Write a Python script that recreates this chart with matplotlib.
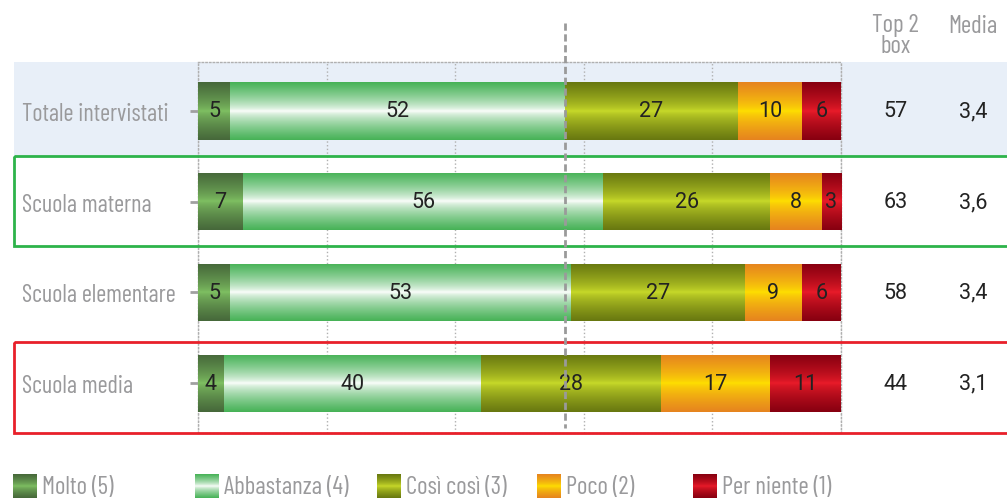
import numpy as np
import matplotlib.pyplot as plt
from matplotlib.colors import to_rgb
from matplotlib.patches import Rectangle

groups = ['Totale intervistati', 'Scuola materna', 'Scuola elementare', 'Scuola media']
molto = [5, 7, 5, 4]
abbastanza = [52, 56, 53, 40]
cosi_cosi = [27, 26, 27, 28]
poco = [10, 8, 9, 17]
per_niente = [6, 3, 6, 11]
top2_box = [57, 63, 58, 44]
media = ['3,4', '3,6', '3,4', '3,1']
legend_labels = ['Molto (5)', 'Abbastanza (4)', 'Così così (3)', 'Poco (2)', 'Per niente (1)']

# (edge colour, centre colour) for the vertical gradient of each answer
grad_colors = [('#46683a', '#80c263'),
               ('#47b257', '#ffffff'),
               ('#687810', '#cadc2a'),
               ('#e6841f', '#ffe100'),
               ('#870010', '#ec1c2a')]

label_font = ['Barlow Condensed', 'DejaVu Sans']
num_font = ['Roboto', 'DejaVu Sans']
gray = '#9a9a9c'


def gradient(edge, centre, n=80):
    t = np.abs(np.linspace(-1, 1, n)) ** 0.7
    e, c = np.array(to_rgb(edge)), np.array(to_rgb(centre))
    return (c + (e - c) * t[:, None])[:, None, :]


fig = plt.figure(figsize=(10.07, 5.02), dpi=100)
ax = fig.add_axes([198 / 1007, 68 / 502, 643 / 1007, 371 / 502])

series = [molto, abbastanza, cosi_cosi, poco, per_niente]
y = np.arange(len(groups))
left = np.zeros(len(groups))
for vals, (edge, centre) in zip(series, grad_colors):
    bars = ax.barh(y, vals, left=left, height=0.63, color=edge, linewidth=0, zorder=3)
    img = gradient(edge, centre)
    for b, v in zip(bars, vals):
        x0, y0, w, h = b.get_x(), b.get_y(), b.get_width(), b.get_height()
        im = ax.imshow(img, extent=(x0, x0 + w, y0 + h, y0), aspect='auto',
                       zorder=4, interpolation='bilinear')
        im.set_clip_path(b)
        ax.text(x0 + w / 2, y0 + h / 2, str(v), ha='center', va='center',
                fontsize=15.5, color='#222222', family=num_font, zorder=6)
    left += np.array(vals)

ax.set_xlim(0, 100)
ax.set_ylim(3.55, -0.54)

# row decorations
ax.add_patch(Rectangle((-28.6, -0.54), 154.4, 1.04, facecolor='#e8eff8',
                       edgecolor='none', zorder=0, clip_on=False))
ax.add_patch(Rectangle((-28.6, 0.5), 160, 0.99, facecolor='none',
                       edgecolor='#2db34a', linewidth=2, zorder=2, clip_on=False))
ax.add_patch(Rectangle((-28.6, 2.55), 160, 1.0, facecolor='none',
                       edgecolor='#e8202a', linewidth=2, zorder=2, clip_on=False))

# reference line at the Top 2 box of the total
ax.plot([top2_box[0], top2_box[0]], [-0.97, 3.5], color='#9a9a9a', lw=2,
        linestyle=(0, (2.6, 1.3)), zorder=7, clip_on=False)

ax.set_xticks(range(0, 101, 20))
ax.set_xticklabels([])
ax.tick_params(axis='x', length=0)
ax.grid(axis='x', linestyle=':', color='#b0b0b0', linewidth=1, zorder=1)
ax.set_axisbelow(True)
for s in ax.spines.values():
    s.set_linestyle(':')
    s.set_color('#b0b0b0')
    s.set_linewidth(1)
    s.set_zorder(1)
ax.patch.set_alpha(0)

ax.set_yticks(y)
ax.set_yticklabels(groups, family=label_font, fontsize=17.5, color=gray, ha='left')
ax.tick_params(axis='y', length=6, width=2, color='#a0a0a0', pad=(198 - 22) * 0.72 - 6)

# side columns
hx, mx = 108.5, 120.5
ax.text(hx, -0.84, 'Top 2\nbox', ha='center', va='center', fontsize=18,
        color=gray, family=label_font, linespacing=0.88, clip_on=False)
ax.text(mx, -0.94, 'Media', ha='center', va='center', fontsize=18,
        color=gray, family=label_font, clip_on=False)
for i in range(len(groups)):
    ax.text(hx, i, str(top2_box[i]), ha='center', va='center', fontsize=15.5,
            color='#222222', family=num_font, clip_on=False)
    ax.text(mx, i, media[i], ha='center', va='center', fontsize=15.5,
            color='#222222', family=num_font, clip_on=False)

# legend with gradient swatches
leg_x = [13, 195, 377, 537, 693]
for xpx, lab, (edge, centre) in zip(leg_x, legend_labels, grad_colors):
    sw = fig.add_axes([xpx / 1007, 3 / 502, 24 / 1007, 24 / 502])
    sw.imshow(gradient(edge, centre), aspect='auto', interpolation='bilinear')
    sw.axis('off')
    fig.text((xpx + 29) / 1007, 14 / 502, lab, ha='left', va='center',
             fontsize=18, color=gray, family=label_font)

fig.savefig('out.png', dpi=100)
